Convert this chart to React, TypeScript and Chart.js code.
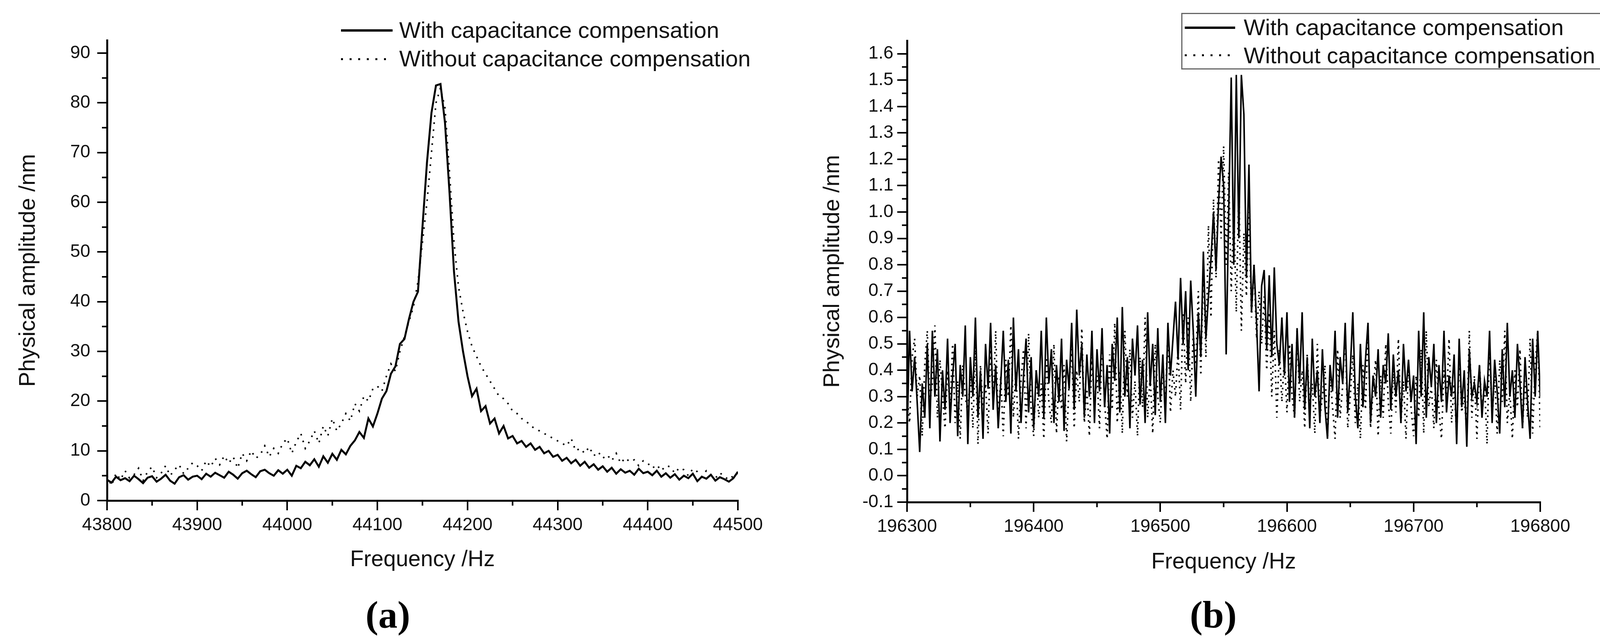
import { useEffect, useRef } from 'react'

import Chart from 'chart.js/auto'

const seriesNames = ['With capacitance compensation', 'Without capacitance compensation']

const leftXTicks = [43800, 43900, 44000, 44100, 44200, 44300, 44400, 44500]
const leftYTicks = [0, 10, 20, 30, 40, 50, 60, 70, 80, 90]
const rightXTicks = [196300, 196400, 196500, 196600, 196700, 196800]
const rightYTicks = [-0.1, 0.0, 0.1, 0.2, 0.3, 0.4, 0.5, 0.6, 0.7, 0.8, 0.9, 1.0, 1.1, 1.2, 1.3, 1.4, 1.5, 1.6]

// (a) 43800..44500 Hz, one value every 5 Hz
const leftWith = [
  4.2, 3.6, 4.8, 4.1, 4.5, 3.9, 5.0, 4.3, 3.5, 4.6, 4.9, 3.8, 4.4, 5.2, 4.0, 3.4, 4.7, 5.1, 4.2, 4.8,
  5.0, 4.3, 5.4, 4.8, 5.6, 5.1, 4.6, 5.8, 5.2, 4.4, 5.5, 6.0, 5.3, 4.7, 5.9, 6.2, 5.5, 5.0, 6.1, 5.4,
  6.2, 5.0, 7.0, 6.5, 7.8, 7.1, 8.3, 6.8, 8.9, 7.6, 9.4, 8.2, 10.2, 9.3, 11.0, 12.1, 13.8, 12.6, 16.5, 14.9,
  17.5, 20.5, 22.0, 25.5, 27.0, 31.5, 32.5, 36.5, 40.0, 42.0,
  55.0, 68.0, 78.0, 83.5, 83.8, 76.0, 62.0, 46.0, 36.0, 30.0,
  25.0, 21.0, 22.5, 18.0, 19.0, 15.5, 16.5, 13.5, 15.0, 12.5, 13.0, 11.5, 12.0, 10.8, 11.5, 10.2, 10.8, 9.5, 10.0, 8.8,
  9.2, 8.0, 8.6, 7.5, 8.2, 7.0, 7.8, 6.6, 7.3, 6.2, 6.9, 5.8, 6.6, 5.4, 6.3, 5.6, 6.0, 5.2, 6.4, 5.5,
  5.8, 5.1, 6.0, 4.8, 5.5, 4.6, 5.3, 4.2, 5.0, 4.5, 5.4, 3.9, 4.8, 4.4, 5.2, 4.0, 4.7, 4.3, 3.8, 4.5, 5.8,
]

const leftWithout = [
  5.0, 3.0, 5.5, 4.2, 6.0, 4.5, 5.2, 6.5, 4.0, 5.8, 6.8, 4.6, 5.5, 7.0, 5.0, 6.2, 7.2, 5.4, 6.5, 7.6,
  7.0, 6.0, 8.0, 6.8, 8.5, 7.2, 9.0, 7.5, 8.8, 6.5, 9.5, 8.0, 10.0, 8.5, 9.2, 11.0, 8.8, 10.5, 9.5, 11.5,
  12.5, 9.5, 11.8, 13.5, 10.5, 12.0, 14.0, 11.5, 15.0, 13.0, 16.5, 14.0, 15.5, 17.5, 16.0, 19.5, 18.0, 21.0, 20.0, 22.5,
  23.0, 22.0, 25.0, 27.5, 26.0, 30.0, 33.0, 36.0, 39.0, 44.0,
  52.0, 60.0, 70.0, 80.0, 83.0, 79.0, 66.0, 52.0, 43.0, 38.0,
  34.0, 31.0, 29.0, 27.0, 25.5, 24.0, 22.5, 21.0, 20.5, 19.5, 18.0, 17.5, 16.5, 16.0, 15.0, 14.5, 14.0, 13.5, 13.0, 12.5,
  12.0, 11.5, 11.0, 12.5, 10.0, 10.5, 9.5, 10.8, 9.0, 9.8, 8.5, 9.2, 8.0, 9.5, 7.5, 8.6, 7.8, 8.2, 7.0, 8.0,
  7.5, 6.5, 7.2, 6.0, 7.0, 6.8, 5.5, 6.6, 6.2, 5.0, 6.4, 5.8, 4.8, 6.0, 5.2, 4.5, 5.6, 4.8, 4.2, 5.0, 5.4,
]

// (b) 196300..196800 Hz, one value every 2 Hz
const rightWith = [
  0.14, 0.55, 0.32, 0.45, 0.28, 0.09, 0.35, 0.22, 0.50, 0.18, 0.55, 0.30, 0.48, 0.13, 0.40, 0.25, 0.52, 0.20, 0.38, 0.50, 0.15, 0.42, 0.30, 0.57, 0.12,
  0.45, 0.30, 0.60, 0.22, 0.40, 0.14, 0.50, 0.33, 0.58, 0.25, 0.42, 0.18, 0.35, 0.55, 0.28, 0.44, 0.16, 0.60, 0.32, 0.48, 0.20, 0.38, 0.52, 0.24, 0.45,
  0.18, 0.40, 0.30, 0.55, 0.22, 0.60, 0.35, 0.48, 0.20, 0.42, 0.28, 0.52, 0.17, 0.44, 0.33, 0.58, 0.25, 0.63, 0.38, 0.50, 0.22, 0.46, 0.30, 0.55, 0.20,
  0.48, 0.32, 0.56, 0.26, 0.42, 0.16, 0.50, 0.36, 0.60, 0.24, 0.64, 0.30, 0.45, 0.18, 0.52, 0.38, 0.57, 0.27, 0.44, 0.20, 0.62, 0.34, 0.50, 0.23, 0.56,
  0.28, 0.46, 0.20, 0.58, 0.38, 0.52, 0.66, 0.44, 0.75, 0.50, 0.70, 0.40, 0.74, 0.55, 0.30, 0.62, 0.45, 0.85, 0.52, 0.68, 0.82, 1.00, 0.78, 1.04, 1.21,
  1.10, 0.46, 1.00, 1.51, 0.80, 1.52, 0.90, 1.52, 1.37, 0.75, 1.18, 0.62, 0.80, 0.58, 0.32, 0.72, 0.78, 0.48, 0.76, 0.45, 0.79, 0.50, 0.42, 0.60, 0.38,
  0.62, 0.28, 0.50, 0.22, 0.56, 0.35, 0.62, 0.25, 0.45, 0.18, 0.52, 0.30, 0.40, 0.20, 0.48, 0.26, 0.14, 0.42, 0.32, 0.55, 0.22, 0.45, 0.35, 0.58, 0.24,
  0.40, 0.62, 0.30, 0.18, 0.50, 0.26, 0.44, 0.58, 0.20, 0.38, 0.30, 0.48, 0.22, 0.42, 0.35, 0.54, 0.25, 0.46, 0.30, 0.40, 0.20, 0.50, 0.32, 0.44, 0.28,
  0.38, 0.12, 0.55, 0.30, 0.62, 0.22, 0.45, 0.34, 0.50, 0.20, 0.42, 0.28, 0.55, 0.24, 0.38, 0.30, 0.46, 0.12, 0.52, 0.26, 0.40, 0.11, 0.48, 0.30, 0.35,
  0.28, 0.42, 0.22, 0.36, 0.30, 0.55, 0.20, 0.44, 0.32, 0.16, 0.48, 0.26, 0.58, 0.30, 0.40, 0.22, 0.50, 0.35, 0.18, 0.45, 0.28, 0.14, 0.52, 0.30, 0.55,
  0.30,
]

const rightWithout = [
  0.30, 0.20, 0.45, 0.52, 0.30, 0.38, 0.15, 0.42, 0.55, 0.28, 0.35, 0.57, 0.22, 0.44, 0.30, 0.18, 0.40, 0.26, 0.50, 0.20, 0.36, 0.14, 0.42, 0.30, 0.24,
  0.38, 0.18, 0.50, 0.12, 0.42, 0.26, 0.35, 0.16, 0.48, 0.28, 0.55, 0.20, 0.38, 0.15, 0.44, 0.30, 0.57, 0.22, 0.40, 0.14, 0.36, 0.48, 0.18, 0.54, 0.25,
  0.15, 0.40, 0.22, 0.35, 0.14, 0.45, 0.28, 0.20, 0.50, 0.16, 0.38, 0.25, 0.42, 0.13, 0.35, 0.48, 0.18, 0.40, 0.28, 0.56, 0.20, 0.33, 0.15, 0.45, 0.26,
  0.38, 0.18, 0.52, 0.28, 0.14, 0.46, 0.25, 0.58, 0.20, 0.40, 0.16, 0.55, 0.30, 0.48, 0.22, 0.36, 0.15, 0.45, 0.26, 0.60, 0.22, 0.38, 0.16, 0.50, 0.30,
  0.20, 0.42, 0.28, 0.55, 0.24, 0.40, 0.30, 0.48, 0.25, 0.62, 0.35, 0.60, 0.28, 0.54, 0.42, 0.70, 0.38, 0.80, 0.45, 0.95, 0.60, 1.05, 0.75, 1.20, 0.90,
  1.25, 0.80, 1.15, 0.70, 1.00, 0.62, 1.10, 0.55, 0.92, 0.68, 1.00, 0.60, 0.80, 0.52, 0.70, 0.50, 0.68, 0.40, 0.62, 0.30, 0.55, 0.22, 0.48, 0.28, 0.45,
  0.24, 0.50, 0.30, 0.22, 0.55, 0.28, 0.40, 0.18, 0.46, 0.25, 0.35, 0.16, 0.50, 0.22, 0.30, 0.42, 0.15, 0.38, 0.26, 0.14, 0.48, 0.22, 0.34, 0.55, 0.18,
  0.30, 0.46, 0.20, 0.35, 0.14, 0.42, 0.25, 0.56, 0.18, 0.32, 0.44, 0.15, 0.38, 0.22, 0.50, 0.28, 0.16, 0.40, 0.24, 0.52, 0.20, 0.36, 0.14, 0.42, 0.26,
  0.15, 0.38, 0.22, 0.48, 0.16, 0.55, 0.26, 0.34, 0.18, 0.44, 0.25, 0.14, 0.40, 0.28, 0.52, 0.20, 0.35, 0.15, 0.46, 0.24, 0.30, 0.17, 0.55, 0.22, 0.38,
  0.14, 0.42, 0.25, 0.35, 0.12, 0.50, 0.22, 0.38, 0.16, 0.44, 0.28, 0.55, 0.20, 0.32, 0.14, 0.40, 0.26, 0.48, 0.18, 0.36, 0.22, 0.52, 0.16, 0.42, 0.55,
  0.18,
]

const leftFreq = leftWith.map((_, i) => 43800 + 5 * i)
const rightFreq = rightWith.map((_, i) => 196300 + 2 * i)

const SANS = '"Liberation Sans", Arial, sans-serif'
const INK = '#111'

// midpoints between major ticks, drawn as short ticks
const halfSteps = (ticks: number[]) => ticks.slice(1).map((t, i) => (t + ticks[i]) / 2)

const minorTicks = {
  id: 'minorTicks',
  afterDraw(chart: any, _args: any, opts: any) {
    const { ctx, chartArea, scales } = chart
    ctx.save()
    ctx.strokeStyle = '#000'
    ctx.lineWidth = 4
    ctx.beginPath()
    for (const v of opts.x || []) {
      const px = scales.x.getPixelForValue(v)
      ctx.moveTo(px, chartArea.bottom)
      ctx.lineTo(px, chartArea.bottom + opts.length)
    }
    for (const v of opts.y || []) {
      const py = scales.y.getPixelForValue(v)
      ctx.moveTo(chartArea.left - opts.length, py)
      ctx.lineTo(chartArea.left, py)
    }
    ctx.stroke()
    ctx.restore()
  },
}

type PanelProps = {
  left: number
  width: number
  freq: number[]
  withValues: number[]
  withoutValues: number[]
  xTicks: number[]
  yTicks: number[]
  yMin: number
  yMax: number
  yDecimals: number
  yAxisWidth: number
  yTitlePad: number
  padTop: number
  padRight: number
  padBottom: number
  xTitlePad: number
  solidWidth: number
  dash: number[]
}

function Panel(p: PanelProps) {
  const canvasRef = useRef<HTMLCanvasElement | null>(null)
  const chartRef = useRef<Chart | null>(null)

  useEffect(() => {
    if (!canvasRef.current) return

    const axisGrid = {
      drawOnChartArea: false,
      drawTicks: true,
      tickLength: 25,
      color: '#000',
      lineWidth: 4,
    }

    chartRef.current = new Chart(canvasRef.current, {
      type: 'line',
      data: {
        datasets: [
          {
            label: seriesNames[0],
            data: p.freq.map((x, i) => ({ x, y: p.withValues[i] })),
            borderColor: '#000',
            borderWidth: p.solidWidth,
            pointRadius: 0,
            tension: 0,
          },
          {
            label: seriesNames[1],
            data: p.freq.map((x, i) => ({ x, y: p.withoutValues[i] })),
            borderColor: '#000',
            borderWidth: 4,
            borderDash: p.dash,
            borderCapStyle: 'butt',
            pointRadius: 0,
            tension: 0,
          },
        ],
      },
      options: {
        animation: false,
        responsive: false,
        devicePixelRatio: 1,
        layout: { padding: { left: 0, top: p.padTop, right: p.padRight, bottom: p.padBottom } },
        plugins: {
          legend: { display: false },
          tooltip: { enabled: false },
          minorTicks: { x: halfSteps(p.xTicks), y: halfSteps(p.yTicks), length: 13 },
        } as any,
        scales: {
          x: {
            type: 'linear',
            min: p.xTicks[0],
            max: p.xTicks[p.xTicks.length - 1],
            afterBuildTicks: (s: any) => {
              s.ticks = p.xTicks.map((value) => ({ value }))
            },
            afterFit: (s: any) => {
              s.height = 200
            },
            border: { color: '#000', width: 5 },
            grid: axisGrid,
            ticks: {
              autoSkip: false,
              maxRotation: 0,
              padding: 11,
              color: INK,
              font: { family: SANS, size: 46 },
              callback: (v: any) => String(v),
            },
            title: {
              display: true,
              text: 'Frequency /Hz',
              color: INK,
              font: { family: SANS, size: 57 },
              padding: { top: 0, bottom: p.xTitlePad },
            },
          },
          y: {
            type: 'linear',
            min: p.yMin,
            max: p.yMax,
            afterBuildTicks: (s: any) => {
              s.ticks = p.yTicks.map((value) => ({ value }))
            },
            afterFit: (s: any) => {
              s.width = p.yAxisWidth
            },
            border: { color: '#000', width: 5 },
            grid: axisGrid,
            ticks: {
              padding: p.yDecimals ? 10 : 18,
              color: INK,
              font: { family: SANS, size: 46 },
              callback: (v: any) => Number(v).toFixed(p.yDecimals),
            },
            title: {
              display: true,
              text: 'Physical amplitude /nm',
              color: INK,
              font: { family: SANS, size: 58 },
              padding: { top: p.yTitlePad, bottom: 0 },
            },
          },
        },
      },
      plugins: [minorTicks],
    } as any)

    return () => {
      if (chartRef.current) {
        chartRef.current.destroy()
        chartRef.current = null
      }
    }
  }, [])

  return (
    <canvas
      ref={canvasRef}
      width={p.width}
      height={1634}
      style={{ position: 'absolute', left: p.left, top: 0, width: p.width, height: 1634 }}
    />
  )
}

const abs = (left: number, top: number, extra: object = {}) => ({
  position: 'absolute' as const,
  left,
  top,
  ...extra,
})

const legendText = {
  fontFamily: SANS,
  fontSize: 58,
  lineHeight: '58px',
  color: INK,
  whiteSpace: 'nowrap' as const,
}

const solidSample = (w: number) => ({ width: w, height: 6, background: '#000' })
const dottedSample = (w: number) => ({
  width: w,
  height: 5,
  backgroundImage: 'repeating-linear-gradient(to right, #000 0 5px, transparent 5px 22px)',
})

const panelLetter = {
  width: 400,
  textAlign: 'center' as const,
  fontFamily: '"Liberation Serif", "Times New Roman", serif',
  fontWeight: 700,
  fontSize: 98,
  lineHeight: '98px',
  color: '#000',
}

export default function App() {
  return (
    <div style={{ position: 'absolute', left: 0, top: 0, width: 4127, height: 1634, background: '#fff', overflow: 'hidden' }}>
      <Panel
        left={0}
        width={2063}
        freq={leftFreq}
        withValues={leftWith}
        withoutValues={leftWithout}
        xTicks={leftXTicks}
        yTicks={leftYTicks}
        yMin={0}
        yMax={92.6}
        yDecimals={0}
        yAxisWidth={274}
        yTitlePad={38}
        padTop={103}
        padRight={174}
        padBottom={152}
        xTitlePad={14}
        solidWidth={5}
        dash={[4, 14]}
      />
      <Panel
        left={2063}
        width={2064}
        freq={rightFreq}
        withValues={rightWith}
        withoutValues={rightWithout}
        xTicks={rightXTicks}
        yTicks={rightYTicks}
        yMin={-0.1}
        yMax={1.65}
        yDecimals={1}
        yAxisWidth={259}
        yTitlePad={34}
        padTop={104}
        padRight={184}
        padBottom={148}
        xTitlePad={12}
        solidWidth={4}
        dash={[4, 11]}
      />

      {/* legend (a), no frame */}
      <div style={abs(873, 75, solidSample(132))} />
      <div style={abs(873, 149, dottedSample(132))} />
      <div style={abs(1022, 48, legendText)}>{seriesNames[0]}</div>
      <div style={abs(1022, 121, legendText)}>{seriesNames[1]}</div>

      {/* legend (b), framed */}
      <div style={abs(3024, 33, { width: 1077, height: 139, border: '3px solid #666' })} />
      <div style={abs(3033, 68, solidSample(129))} />
      <div style={abs(3033, 139, dottedSample(129))} />
      <div style={abs(3184, 41, legendText)}>{seriesNames[0]}</div>
      <div style={abs(3184, 113, legendText)}>{seriesNames[1]}</div>

      <div style={abs(793, 1525, panelLetter)}>
        (<span>a</span>)
      </div>
      <div style={abs(2906, 1525, panelLetter)}>
        (<span>b</span>)
      </div>
    </div>
  )
}
